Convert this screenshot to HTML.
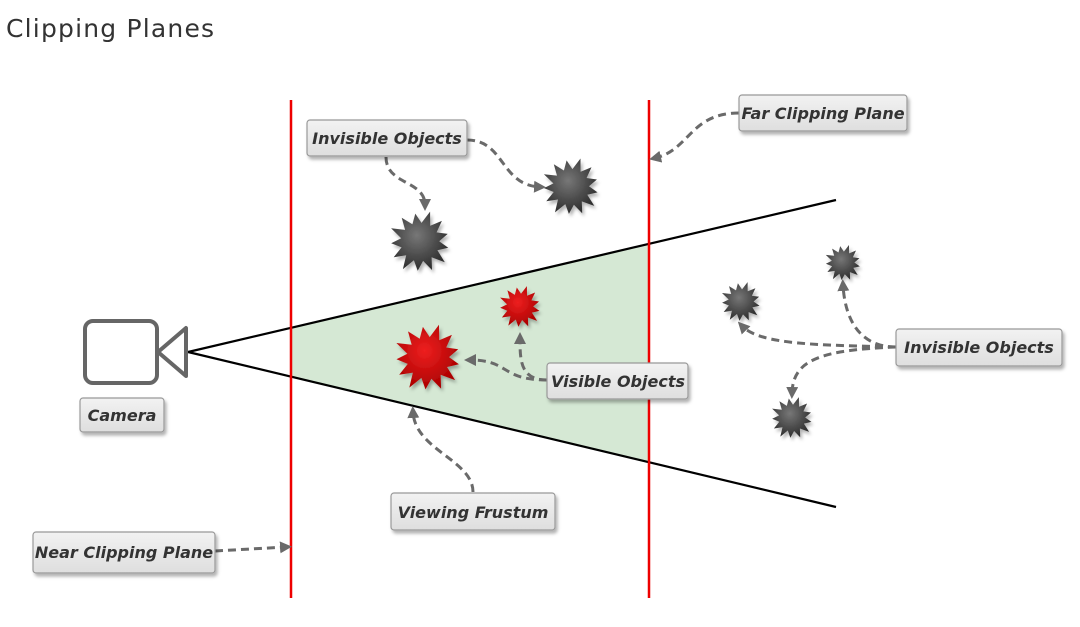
<!DOCTYPE html>
<html><head><meta charset="utf-8"><style>
body{margin:0;background:#fff;width:1080px;height:627px;overflow:hidden}
svg{display:block}
.lbl{font-family:"DejaVu Sans","Liberation Sans",sans-serif;font-weight:bold;font-style:italic;font-size:16px;fill:#333}
.box{fill:url(#bg);stroke:#999;stroke-width:1.2}
.arr{fill:none;stroke:#6a6a6a;stroke-width:3;stroke-dasharray:8 5}
</style></head><body>
<svg id="s" width="1080" height="627" xmlns="http://www.w3.org/2000/svg">
<defs>
<linearGradient id="bg" x1="0" y1="0" x2="0" y2="1"><stop offset="0" stop-color="#f2f2f2"/><stop offset="1" stop-color="#dedede"/></linearGradient>
<radialGradient id="gg" cx="0.45" cy="0.4" r="0.6"><stop offset="0" stop-color="#777"/><stop offset="1" stop-color="#2e2e2e"/></radialGradient>
<radialGradient id="rg" cx="0.45" cy="0.4" r="0.6"><stop offset="0" stop-color="#ee2020"/><stop offset="1" stop-color="#a00"/></radialGradient>
<filter id="sh" x="-20%" y="-20%" width="150%" height="150%"><feDropShadow dx="2" dy="3" stdDeviation="1.5" flood-color="#000" flood-opacity="0.3"/></filter>
<marker id="ah" markerWidth="12" markerHeight="12" refX="6" refY="6" orient="auto" markerUnits="userSpaceOnUse"><path d="M0,0 L12,6 L0,12 Z" fill="#6a6a6a"/></marker>
</defs>
<text x="6" y="37" font-family="DejaVu Sans, Liberation Sans, sans-serif" font-size="25" fill="#333" letter-spacing="1.2">Clipping Planes</text>
<polygon points="291,328 649,244 649,462 291,377" fill="#d5e8d4"/>
<line x1="188" y1="352" x2="836" y2="200" stroke="#000" stroke-width="2.2"/>
<line x1="188" y1="352" x2="836" y2="507" stroke="#000" stroke-width="2.2"/>
<line x1="291" y1="100" x2="291" y2="598" stroke="#e00" stroke-width="2.5"/>
<line x1="649" y1="100" x2="649" y2="598" stroke="#e00" stroke-width="2.5"/>
<rect x="85" y="321" width="72" height="62" rx="8" fill="#fff" stroke="#666" stroke-width="4"/>
<polygon points="158,352 186,328 186,376" fill="#fff" stroke="#666" stroke-width="4" stroke-linejoin="round"/>
<g id="balls"></g>
<path class="arr" d="M386,157 C386,185 425,180 425,205" marker-end="url(#ah)"/>
<path class="arr" d="M467,140 C505,140 500,185 540,187" marker-end="url(#ah)"/>
<path class="arr" d="M739,113 C690,113 690,150 655,158" marker-end="url(#ah)"/>
<path class="arr" d="M547,380 C500,380 510,360 470,360" marker-end="url(#ah)"/>
<path class="arr" d="M547,380 C520,380 520,360 520,338" marker-end="url(#ah)"/>
<path class="arr" d="M473,492 C473,460 415,450 413,412" marker-end="url(#ah)"/>
<path class="arr" d="M215,551 L286,547" marker-end="url(#ah)"/>
<path class="arr" d="M896,347 C820,345 760,345 742,326" marker-end="url(#ah)"/>
<path class="arr" d="M896,347 C860,347 845,320 843,285" marker-end="url(#ah)"/>
<path class="arr" d="M896,347 C820,350 793,360 792,393" marker-end="url(#ah)"/>
<g filter="url(#sh)">
<rect class="box" x="307" y="120" width="160" height="36" rx="3"/>
<rect class="box" x="739" y="95" width="168" height="36" rx="3"/>
<rect class="box" x="547" y="363" width="141" height="36" rx="3"/>
<rect class="box" x="896" y="329" width="166" height="37" rx="3"/>
<rect class="box" x="80" y="398" width="84" height="34" rx="3"/>
<rect class="box" x="391" y="493" width="164" height="37" rx="3"/>
<rect class="box" x="33" y="532" width="182" height="41" rx="3"/>
</g>
<text class="lbl" x="387" y="144" text-anchor="middle">Invisible Objects</text>
<text class="lbl" x="823" y="119" text-anchor="middle">Far Clipping Plane</text>
<text class="lbl" x="618" y="387" text-anchor="middle">Visible Objects</text>
<text class="lbl" x="979" y="353" text-anchor="middle">Invisible Objects</text>
<text class="lbl" x="122" y="421" text-anchor="middle">Camera</text>
<text class="lbl" x="473" y="518" text-anchor="middle">Viewing Frustum</text>
<text class="lbl" x="124" y="558" text-anchor="middle">Near Clipping Plane</text>
</svg>
<script>
var g=document.getElementById('balls');
function ball(cx,cy,r,fill){
 var n=13,pts=[];
 for(var i=0;i<n*2;i++){var a=i*Math.PI/n+0.2;var rr=(i%2==0)?r*(0.9+0.1*((i*7)%3)/2):r*0.6;pts.push((cx+rr*Math.cos(a)).toFixed(1)+','+(cy+rr*Math.sin(a)).toFixed(1));}
 g.innerHTML+='<polygon points="'+pts.join(' ')+'" fill="url(#'+fill+')" filter="url(#sh)"/>';
}
ball(420,242,32,'gg');ball(571,187,30,'gg');ball(741,302,21,'gg');ball(843,263,19,'gg');ball(792,418,22,'gg');
ball(428,358,35,'rg');ball(520,307,22,'rg');
</script>
</body></html>
